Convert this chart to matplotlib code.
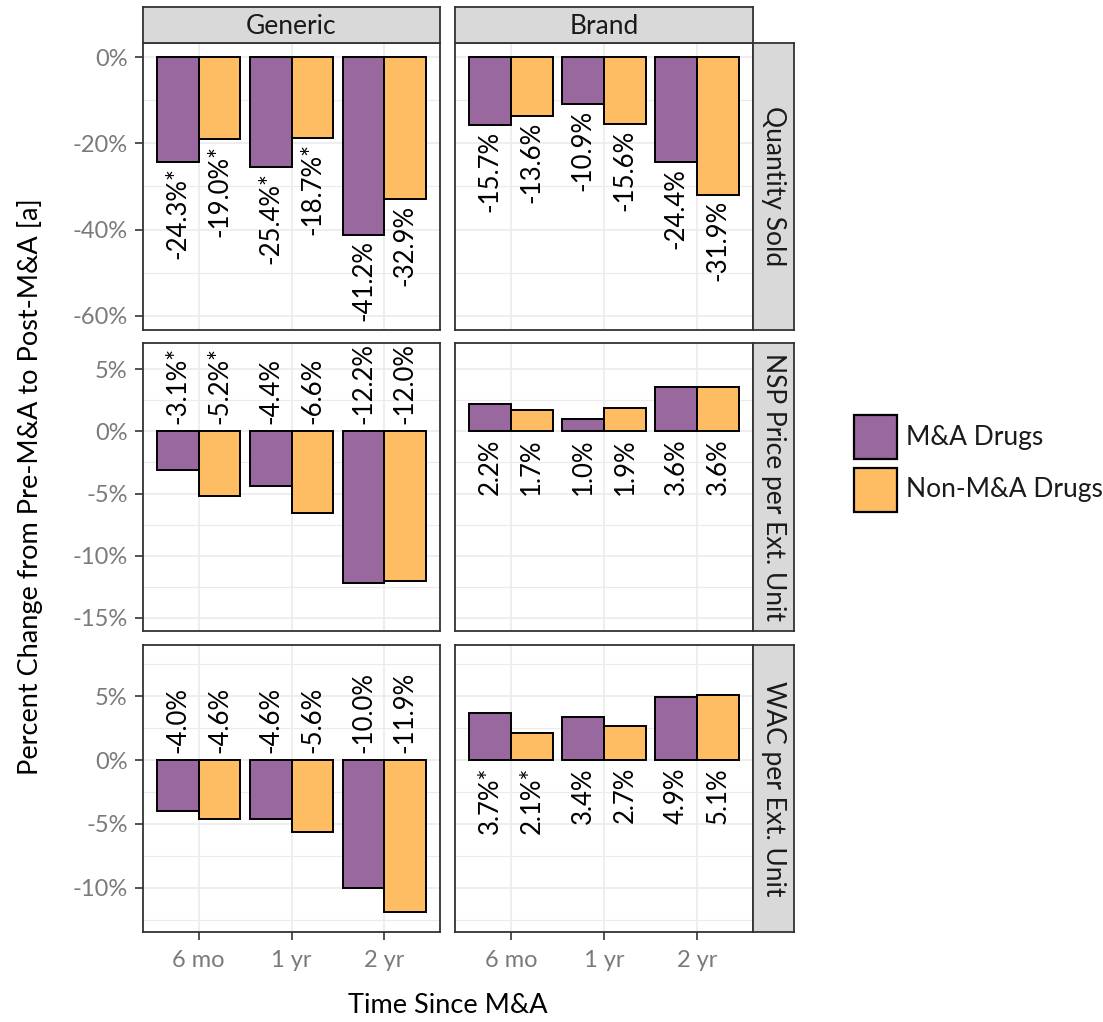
import numpy as np
import matplotlib
matplotlib.use('Agg')
import matplotlib.pyplot as plt
from matplotlib.patches import Rectangle

plt.rcParams['font.family'] = ['Lato', 'DejaVu Sans']

# data (percent change)
periods = ['6 mo', '1 yr', '2 yr']
columns = ['Generic', 'Brand']
measures = ['Quantity Sold', 'NSP Price per Ext. Unit', 'WAC per Ext. Unit']
series = ['M&A Drugs', 'Non-M&A Drugs']

qty_generic_ma = [-24.3, -25.4, -41.2]
qty_generic_non = [-19.0, -18.7, -32.9]
qty_brand_ma = [-15.7, -10.9, -24.4]
qty_brand_non = [-13.6, -15.6, -31.9]

nsp_generic_ma = [-3.1, -4.4, -12.2]
nsp_generic_non = [-5.2, -6.6, -12.0]
nsp_brand_ma = [2.2, 1.0, 3.6]
nsp_brand_non = [1.7, 1.9, 3.6]

wac_generic_ma = [-4.0, -4.6, -10.0]
wac_generic_non = [-4.6, -5.6, -11.9]
wac_brand_ma = [3.7, 3.4, 4.9]
wac_brand_non = [2.1, 2.7, 5.1]

# significance stars
qty_generic_star = [True, True, False]
nsp_generic_star = [True, False, False]
wac_brand_star = [True, False, False]
no_star = [False, False, False]

panels = {
    (0, 0): (qty_generic_ma, qty_generic_non, qty_generic_star),
    (0, 1): (qty_brand_ma, qty_brand_non, no_star),
    (1, 0): (nsp_generic_ma, nsp_generic_non, nsp_generic_star),
    (1, 1): (nsp_brand_ma, nsp_brand_non, no_star),
    (2, 0): (wac_generic_ma, wac_generic_non, no_star),
    (2, 1): (wac_brand_ma, wac_brand_non, wac_brand_star),
}

row_ylims = [(-63.3, 3.3), (-16.05, 7.1), (-13.45, 9.0)]
row_major = [[-60, -40, -20, 0], [-15, -10, -5, 0, 5], [-10, -5, 0, 5]]
row_minor = [[-50, -30, -10], [-12.5, -7.5, -2.5, 2.5], [-12.5, -7.5, -2.5, 2.5, 7.5]]

purple = '#98689E'
orange = '#FEBD62'
strip_fill = '#D9D9D9'
border = '#333333'
grid_col = '#EBEBEB'
tick_col = '#7A7A7A'

W, H = 1103, 1022
fig = plt.figure(figsize=(W / 100, H / 100), dpi=100)


def box(x0, y0, x1, y1):
    return [x0 / W, 1 - y1 / H, (x1 - x0) / W, (y1 - y0) / H]


col_x = [(143, 440), (455, 753)]
row_y = [(43, 330), (343, 631), (645, 932)]

x = np.arange(1, 4)
bw = 0.45

for (r, c), (ma, non, star) in panels.items():
    x0, x1 = col_x[c]
    y0, y1 = row_y[r]
    ax = fig.add_axes(box(x0, y0, x1, y1))
    ax.set_xlim(0.4, 3.6)
    ax.set_ylim(*row_ylims[r])
    ax.set_yticks(row_major[r])
    ax.set_yticks(row_minor[r], minor=True)
    ax.set_xticks(x)
    ax.grid(True, which='major', color=grid_col, lw=1.2, zorder=0)
    ax.grid(True, which='minor', axis='y', color=grid_col, lw=0.8, zorder=0)
    ax.set_axisbelow(True)
    for s in ax.spines.values():
        s.set_color(border)
        s.set_linewidth(1.3)

    ax.bar(x - bw / 2, ma, width=bw, color=purple, edgecolor='black', lw=1.4, zorder=2)
    ax.bar(x + bw / 2, non, width=bw, color=orange, edgecolor='black', lw=1.4, zorder=2)

    for xs, vals in ((x - bw / 2, ma), (x + bw / 2, non)):
        for xi, v, st in zip(xs, vals, star):
            txt = f'{v:.1f}%' + ('*' if st else '')
            if r == 0:
                ax.annotate(txt, (xi, v), xytext=(0, -4), textcoords='offset points',
                            rotation=90, ha='center', va='top', fontsize=18.5, zorder=3)
            elif v < 0:
                ax.annotate(txt, (xi, 0), xytext=(0, 5), textcoords='offset points',
                            rotation=90, ha='center', va='bottom', fontsize=18.5, zorder=3)
            else:
                ax.annotate(txt, (xi, 0), xytext=(0, -5), textcoords='offset points',
                            rotation=90, ha='center', va='top', fontsize=18.5, zorder=3)

    ax.tick_params(axis='both', which='major', length=6, width=1.2, color=border,
                   labelsize=17, labelcolor=tick_col, pad=5)
    ax.tick_params(axis='y', which='minor', length=0)
    if c == 0:
        ax.set_yticklabels([f'{t:g}%' for t in row_major[r]])
    else:
        ax.tick_params(axis='y', which='major', length=0, labelleft=False)
    if r == 2:
        ax.set_xticklabels(periods)
        ax.tick_params(axis='x', pad=7)
    else:
        ax.tick_params(axis='x', length=0, labelbottom=False)

    # top strips
    if r == 0:
        sx = fig.add_axes(box(x0, 7, x1, 43))
        sx.set_facecolor(strip_fill)
        sx.set_xticks([])
        sx.set_yticks([])
        for s in sx.spines.values():
            s.set_color(border)
            s.set_linewidth(1.3)
        sx.text(0.5, 0.47, columns[c], ha='center', va='center', fontsize=19,
                color='#1A1A1A', transform=sx.transAxes)
    # right strips
    if c == 1:
        sx = fig.add_axes(box(753, y0, 794, y1))
        sx.set_facecolor(strip_fill)
        sx.set_xticks([])
        sx.set_yticks([])
        for s in sx.spines.values():
            s.set_color(border)
            s.set_linewidth(1.3)
        sx.text(0.5, 0.5, measures[r], ha='center', va='center', fontsize=19,
                color='#1A1A1A', rotation=-90, transform=sx.transAxes)

# axis titles
fig.text(30 / W, 1 - 487 / H, 'Percent Change from Pre-M&A to Post-M&A [a]',
         rotation=90, ha='center', va='center', fontsize=19.5, color='black')
fig.text(448 / W, 1 - 1005 / H, 'Time Since M&A', ha='center', va='center',
         fontsize=19.5, color='black')

# legend
for i, (name, col) in enumerate(zip(series, [purple, orange])):
    top = 415 + i * 53
    fig.add_artist(Rectangle((854 / W, 1 - (top + 44) / H), 43 / W, 44 / H,
                             facecolor=col, edgecolor='black', lw=1.6,
                             transform=fig.transFigure))
    fig.text(906 / W, 1 - (top + 22) / H, name, ha='left', va='center',
             fontsize=19, color='#1A1A1A')

fig.savefig('out.png', dpi=100)
